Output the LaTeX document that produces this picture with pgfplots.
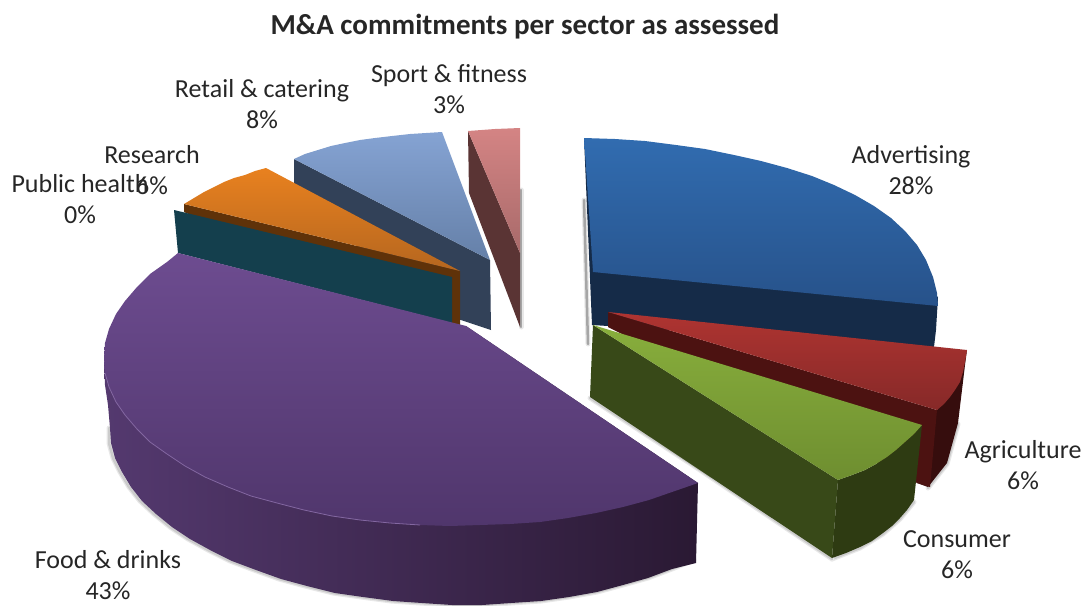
\documentclass[border=0pt]{standalone}
\usepackage{fontspec}
\setmainfont{Carlito}
\usepackage{pgfplots}
\pgfplotsset{compat=1.18}
\definecolor{txt}{HTML}{262626}
\definecolor{sportA}{HTML}{D48484}
\definecolor{sportB}{HTML}{A86A6A}
\definecolor{sportW}{HTML}{5A3434}
\definecolor{retailA}{HTML}{85A3D3}
\definecolor{retailB}{HTML}{6580A8}
\definecolor{retailW}{HTML}{324158}
\definecolor{resA}{HTML}{E8811F}
\definecolor{resB}{HTML}{B5661F}
\definecolor{resW}{HTML}{5F3209}
\definecolor{pubW}{HTML}{143F4D}
\definecolor{foodA}{HTML}{6D4C90}
\definecolor{foodB}{HTML}{50366C}
\definecolor{foodL}{HTML}{54396F}
\definecolor{foodM}{HTML}{3F2A56}
\definecolor{foodR}{HTML}{2A1933}
\definecolor{advA}{HTML}{316CB0}
\definecolor{advB}{HTML}{27528A}
\definecolor{advW}{HTML}{152B48}
\definecolor{agrA}{HTML}{AF3431}
\definecolor{agrB}{HTML}{862928}
\definecolor{agrW}{HTML}{4C1211}
\definecolor{agrS}{HTML}{360D0D}
\definecolor{conA}{HTML}{88AE3C}
\definecolor{conB}{HTML}{6E8E30}
\definecolor{conW}{HTML}{384918}
\definecolor{conS}{HTML}{2E3B12}
\tikzset{lbl/.style={text=txt,font=\fontsize{26}{31}\selectfont,align=center,inner sep=0pt},
  sh1/.style={draw=black!9,line width=5pt,line join=round,line cap=round},
  sh2/.style={draw=black!20,line width=2.5pt,line join=round,line cap=round}}
\begin{document}
\begin{tikzpicture}
\useasboundingbox (0,0) rectangle (1089pt,605pt);
\begin{axis}[at={(0,0)},anchor=south west,scale only axis,width=1089pt,height=605pt,
  xmin=0,xmax=1089,ymin=0,ymax=605,y dir=reverse,hide axis,clip=true]
% soft shadows
\pgfplotsset{every axis plot/.append style={}}
\addplot[sh1] coordinates {(109,428)(109,443)(113,458)(120,472)(129,487)(140,501)(154,514)(170,527)(188,539)(208,550)(230,561)(254,570)(279,579)(305,586)(333,593)(361,597)(391,601)(420,603)(452,605)(482,605)(511,603)(541,601)(569,597)(597,592)(623,585)(648,578)(672,569)(694,560)};
\addplot[sh2] coordinates {(109,428)(109,443)(113,458)(120,472)(129,487)(140,501)(154,514)(170,527)(188,539)(208,550)(230,561)(254,570)(279,579)(305,586)(333,593)(361,597)(391,601)(420,603)(452,605)(482,605)(511,603)(541,601)(569,597)(597,592)(623,585)(648,578)(672,569)(694,560)};
\addplot[sh1] coordinates {(832,559)(860,548)(883,534)(900,519)(914,502)};
\addplot[sh2] coordinates {(832,559)(860,548)(883,534)(900,519)(914,502)};
\addplot[sh1] coordinates {(928,488)(947,464)(958,424)};
\addplot[sh2] coordinates {(928,488)(947,464)(958,424)};
\addplot[sh1] coordinates {(584,200)(588,344)};
\addplot[sh2,draw=black!35] coordinates {(584,200)(588,344)};
\addplot[sh1] coordinates {(521,190)(521,327)};
\addplot[sh2,draw=black!35] coordinates {(521,190)(521,327)};
\addplot[sh1] coordinates {(590,398)(694,466)(832,559)};
\addplot[sh2] coordinates {(590,398)(694,466)(832,559)};
% Sport & fitness
\addplot[draw=none,fill=sportW] coordinates {(468,131)(520,253)(520,327)(469,193)} --cycle;
\addplot[draw=none,top color=sportA,bottom color=sportB] coordinates {(468,131)(495,129)(520,128)(520,253)} --cycle;
% Retail & catering
\addplot[draw=none,fill=retailW] coordinates {(294,159)(490,260)(491,330)(455,318)(294,200)} --cycle;
\addplot[draw=none,top color=retailA,bottom color=retailB] coordinates {(294,159)(305,154)(318,150)(331,146)(345,143)(360,140)(375,138)(392,136)(410,134)(426,133)(442,132)(490,260)} --cycle;
% Research
\addplot[draw=none,fill=resW] coordinates {(184,204)(460,271)(460,325)(440,322)(184,212)} --cycle;
\addplot[draw=none,top color=resA,bottom color=resB] coordinates {(184,204)(194,198)(204,192)(214,187)(224,182)(234,178)(245,175)(255,171)(266,168)(460,271)} --cycle;
% Public health
\addplot[draw=none,fill=pubW] coordinates {(174,210)(452,277)(452,323)(178,253)} --cycle;
% Food & drinks
\addplot[draw=none,left color=foodL,middle color=foodM,right color=foodR] coordinates {(104,362)(105,385)(108,405)(110,428)(111,443)(115,458)(122,472)(131,487)(142,501)(156,514)(172,527)(190,539)(210,550)(232,561)(256,570)(281,579)(307,586)(335,593)(363,597)(393,601)(422,603)(452,605)(482,605)(511,603)(541,601)(569,597)(597,592)(623,585)(648,578)(672,569)(696,563)(698,483)(466,326)} --cycle;
\addplot[draw=none,top color=foodA,bottom color=foodB] coordinates {(178,253)(167,262)(150,274)(137,287)(125,301)(116,314)(109,329)(105,343)(104,358)(105,373)(109,387)(116,402)(125,415)(137,429)(150,442)(167,454)(185,466)(205,477)(228,487)(251,496)(277,503)(304,510)(332,516)(360,520)(390,523)(420,525)(450,526)(480,525)(510,524)(540,522)(568,518)(596,513)(623,507)(649,500)(672,492)(698,483)(466,326)} --cycle;
\addplot[draw=foodA!85!white,line width=0.8pt] coordinates {(105,373)(109,387)(116,402)(125,415)(137,429)(150,442)(167,454)(185,466)(205,477)(228,487)(251,496)(277,503)(304,510)(332,516)(360,520)(390,523)(420,525)};
% Advertising
\addplot[draw=none,fill=advW] coordinates {(584,138)(938,297)(936,330)(934,347)(608,326)(592,325)} --cycle;
\addplot[draw=none,top color=advA,bottom color=advB] coordinates {(584,138)(615,139)(645,141)(676,145)(705,149)(734,155)(761,161)(787,168)(812,176)(834,185)(855,195)(874,206)(891,218)(905,231)(917,245)(926,260)(933,277)(937,293)(938,306)(593,272)} --cycle;
% Agriculture
\addplot[draw=none,fill=agrS] coordinates {(967,350)(965,365)(958,423)(947,463)(928,487)(917,483)(937,410)} --cycle;
\addplot[draw=none,fill=agrW] coordinates {(608,312)(937,410)(930,487)(917,483)(608,327)} --cycle;
\addplot[draw=none,top color=agrA,bottom color=agrB] coordinates {(608,312)(967,350)(965,362)(963,372)(960,382)(955,390)(950,397)(944,404)(937,410)} --cycle;
% Consumer
\addplot[draw=none,fill=conW] coordinates {(593,325)(838,480)(832,558)(590,397)} --cycle;
\addplot[draw=none,fill=conS] coordinates {(838,480)(852,475)(865,470)(876,464)(887,457)(896,450)(905,442)(914,434)(922,425)(914,500)(907,510)(900,518)(892,526)(883,533)(872,541)(860,547)(846,553)(832,558)} --cycle;
\addplot[draw=none,top color=conA,bottom color=conB] coordinates {(593,325)(922,425)(914,434)(905,442)(896,450)(887,457)(876,464)(865,470)(852,475)(838,480)} --cycle;
% Labels
\node[lbl,font=\fontsize{29}{31}\selectfont\bfseries] at (axis cs:525,27) {M\&A commitments per sector as assessed};
\node[lbl] at (axis cs:911,170) {Advertising\\28\%};
\node[lbl] at (axis cs:1023,465) {Agriculture\\6\%};
\node[lbl] at (axis cs:957,555) {Consumer\\6\%};
\node[lbl] at (axis cs:108,575) {Food \& drinks\\43\%};
\node[lbl] at (axis cs:80,199) {Public health\\0\%};
\node[lbl] at (axis cs:152,170) {Research\\6\%};
\node[lbl] at (axis cs:262,104) {Retail \& catering\\8\%};
\node[lbl] at (axis cs:449,89) {Sport \& fitness\\3\%};
\end{axis}
\end{tikzpicture}
\end{document}
